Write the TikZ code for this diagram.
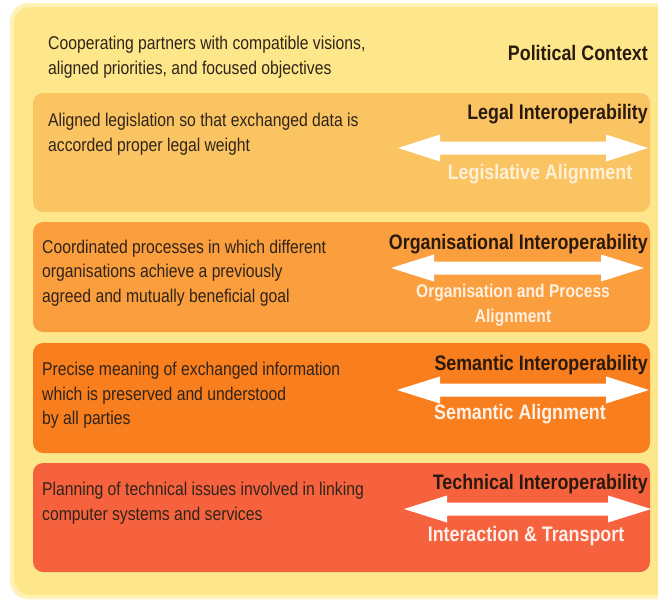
\documentclass[tikz,border=0pt]{standalone}
\usepackage{fontspec}
\setmainfont{Liberation Sans}
\newfontfamily\narrowfont{Liberation Sans}[FakeStretch=0.85]
\definecolor{bgyellow}{HTML}{FEE78A}
\definecolor{bgedge}{HTML}{FFF2B8}
\definecolor{legalc}{HTML}{FBC463}
\definecolor{orgc}{HTML}{FA9E3E}
\definecolor{semc}{HTML}{F97E1E}
\definecolor{techc}{HTML}{F6623E}
\definecolor{titlec}{HTML}{2A1A0E}
\definecolor{descc}{HTML}{30241A}
\begin{document}
\begin{tikzpicture}[x=1pt,y=-1pt,
  band/.style={rounded corners=10pt},
  desc/.style={anchor=west,align=left,font=\narrowfont\fontsize{18.5}{24.5}\selectfont,text=descc,inner sep=0pt},
  lbl/.style={anchor=east,font=\narrowfont\bfseries\fontsize{21}{22}\selectfont,text=titlec,inner sep=0pt},
  alig/.style={font=\narrowfont\bfseries\fontsize{21}{25}\selectfont,text=white,align=center,inner sep=0pt},
  aligsmall/.style={font=\narrowfont\bfseries\fontsize{18.4}{25}\selectfont,text=white,align=center,inner sep=0pt},
  arr/.style={fill=white}
]
\useasboundingbox (0,0) rectangle (658,603);
\clip (0,0) rectangle (658,603);
% outer context
\fill[bgedge,rounded corners=18pt] (10,3) rectangle (690,599);
\fill[bgyellow,rounded corners=16pt] (14,7) rectangle (690,595);
% bands
\fill[legalc,band] (33,93) rectangle (650,212);
\fill[orgc,band] (33,222) rectangle (650,332);
\fill[semc,band] (33,343) rectangle (650,453);
\fill[techc,band] (33,463) rectangle (650,572);
% political
\node[desc] (poltext) at (48,57) {Cooperating partners with compatible visions,\\aligned priorities, and focused objectives};
\node[lbl] (pol) at (648,53) {Political Context};
% legal
\node[desc] (legtext) at (48,134) {Aligned legislation so that exchanged data is\\accorded proper legal weight};
\node[lbl] (leg) at (648,114.5) {Legal Interoperability};
\fill[arr] (398,148) -- (440,134.5) -- (440,141.5) -- (606,141.5) -- (606,134.5) -- (648,148) -- (606,161.5) -- (606,154.5) -- (440,154.5) -- (440,161.5) -- cycle;
\node[alig,text opacity=0.75] (legal) at (540,174) {Legislative Alignment};
% organisational
\node[desc] (orgtext) at (42,273) {Coordinated processes in which different\\organisations achieve a previously\\agreed and mutually beneficial goal};
\node[lbl] (org) at (648,244) {Organisational Interoperability};
\fill[arr] (391,268) -- (434,254.5) -- (434,261.5) -- (601,261.5) -- (601,254.5) -- (644,268) -- (601,281.5) -- (601,274.5) -- (434,274.5) -- (434,281.5) -- cycle;
\node[aligsmall,text opacity=0.85] (orgal) at (513,305) {Organisation and Process\\Alignment};
% semantic
\node[desc] (semtext) at (42,395.5) {Precise meaning of exchanged information\\which is preserved and understood\\by all parties};
\node[lbl] (sem) at (648,365.5) {Semantic Interoperability};
\fill[arr] (397,390) -- (440,376.5) -- (440,383.5) -- (606,383.5) -- (606,376.5) -- (649,390) -- (606,403.5) -- (606,396.5) -- (440,396.5) -- (440,403.5) -- cycle;
\node[alig,text opacity=0.9] (semal) at (520,414) {Semantic Alignment};
% technical
\node[desc] (techtext) at (42,503) {Planning of technical issues involved in linking\\computer systems and services};
\node[lbl] (tech) at (648,484.5) {Technical Interoperability};
\fill[arr] (404,509) -- (447,495.5) -- (447,502.5) -- (608,502.5) -- (608,495.5) -- (651,509) -- (608,522.5) -- (608,515.5) -- (447,515.5) -- (447,522.5) -- cycle;
\node[alig,text opacity=0.9] (techal) at (526,536) {Interaction \& Transport};
\end{tikzpicture}
\end{document}
